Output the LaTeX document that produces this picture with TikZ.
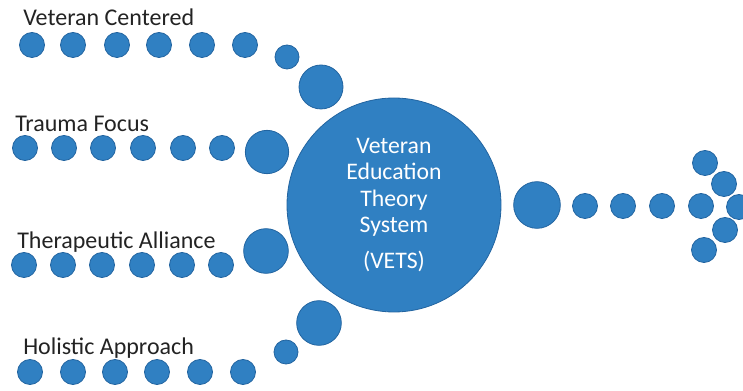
\documentclass[tikz,border=0pt]{standalone}
\usepackage{fontspec}
\setmainfont{Carlito}
\definecolor{vetsblue}{RGB}{48,128,194}
\definecolor{vetsedge}{RGB}{34,100,160}
\definecolor{labelgray}{RGB}{35,35,35}
\tikzset{
	dot/.style={circle, fill=vetsblue, draw=vetsedge, line width=.6pt, inner sep=0pt, minimum size=#1},
	dot/.default=18.75pt,
	label text/.style={anchor=base west, inner sep=0pt, text=labelgray, font=\fontsize{18}{21}\selectfont}
}
\begin{document}
\begin{tikzpicture}[x=.75pt, y=-.75pt]
	\useasboundingbox (0,0) rectangle (743,391);
	%centre circle
	\node[dot=160.5pt, text=white, align=center, font=\fontsize{17.8}{19.8}\selectfont] (vets) at (394,205)
	{Veteran\\Education\\Theory\\System\\[7pt](VETS)};
	%labels
	\node[label text] (vc label) at (23,26) {Veteran Centered};
	\node[label text] (tf label) at (15,132) {Trauma Focus};
	\node[label text] (ta label) at (17,249) {Therapeutic Alliance};
	\node[label text] (ha label) at (23,355) {Holistic Approach};
	%rows of dots
	\foreach \x [count=\i] in {32,73,117,159,202,245}
	\node[dot] (vc\i) at (\x,45) {};
	\node[dot=18pt] (vc small) at (287,57) {};
	\node[dot=33pt] (vc big) at (321,87) {};
	
	\foreach \x [count=\i] in {25,64,103,143,183,222}
	\node[dot] (tf\i) at (\x,148) {};
	\node[dot=32.5pt] (tf big) at (267,152) {};
	
	\foreach \x [count=\i] in {24,63,102,142,182,221}
	\node[dot] (ta\i) at (\x,265) {};
	\node[dot=33.5pt] (ta big) at (266,251) {};
	
	\foreach \x [count=\i] in {30,73,115,157,200,243}
	\node[dot] (ha\i) at (\x,372) {};
	\node[dot=18pt] (ha small) at (286,352) {};
	\node[dot=33.5pt] (ha big) at (319,323) {};
	%outgoing arrow
	\node[dot=35pt] (out big) at (537,205) {};
	\foreach \x [count=\i] in {585,623,662,701}
	\node[dot] (out\i) at (\x,206) {};
	\foreach \x/\y [count=\i] in {705/163,724/184,739/207,725/230,704/250}
	\node[dot] (head\i) at (\x,\y) {};
\end{tikzpicture}
\end{document}
